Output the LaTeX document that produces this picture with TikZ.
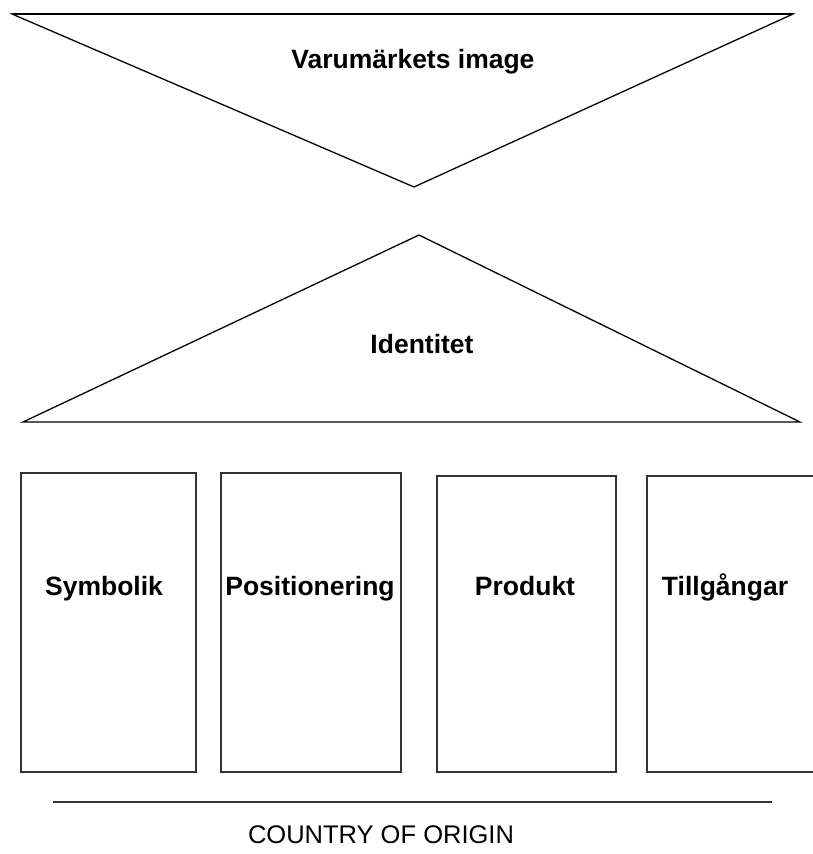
\documentclass[tikz,border=0pt]{standalone}
\usepackage{fontspec}
\setmainfont{Liberation Sans}

\begin{document}
\begin{tikzpicture}[x=1pt, y=-1pt,
    triline/.style={line width=1.3pt},
    pillar/.style={line width=1.6pt, draw=black!80},
    lbl/.style={font=\fontsize{26.5}{32}\selectfont\bfseries, inner sep=0pt, anchor=base},
    originlbl/.style={font=\fontsize{25.5}{30}\selectfont, inner sep=0pt, anchor=base}]
  \useasboundingbox (0,0) rectangle (813,854);
  % image triangle
  \draw[triline] (12,14) -- (793,14) -- (414,187) -- cycle;
  \draw[line width=2pt] (12,14) -- (793,14);
  \node[lbl] (image) at (413,68) {Varumärkets image};
  % identity triangle
  \draw[triline] (23,422) -- (419,235) -- (800,422) -- cycle;
  \node[lbl] (identitet) at (422,353) {Identitet};
  % pillars
  \draw[pillar] (21,473) rectangle (196,772);
  \draw[pillar] (221,473) rectangle (401,772);
  \draw[pillar] (437,476) rectangle (616,772);
  \draw[pillar] (813,476) -- (647,476) -- (647,772) -- (813,772);
  \node[lbl] (symbolik) at (104,595) {Symbolik};
  \node[lbl] (positionering) at (310,595) {Positionering};
  \node[lbl] (produkt) at (525,595) {Produkt};
  \node[lbl] (tillgangar) at (725,595) {Tillgångar};
  % country of origin
  \coordinate (coo west) at (53,802);
  \coordinate (coo east) at (772,802);
  \draw[line width=1.6pt, draw=black!80] (coo west) -- (coo east);
  \node[originlbl] (origin) at (381,843) {COUNTRY OF ORIGIN};
\end{tikzpicture}
\end{document}
